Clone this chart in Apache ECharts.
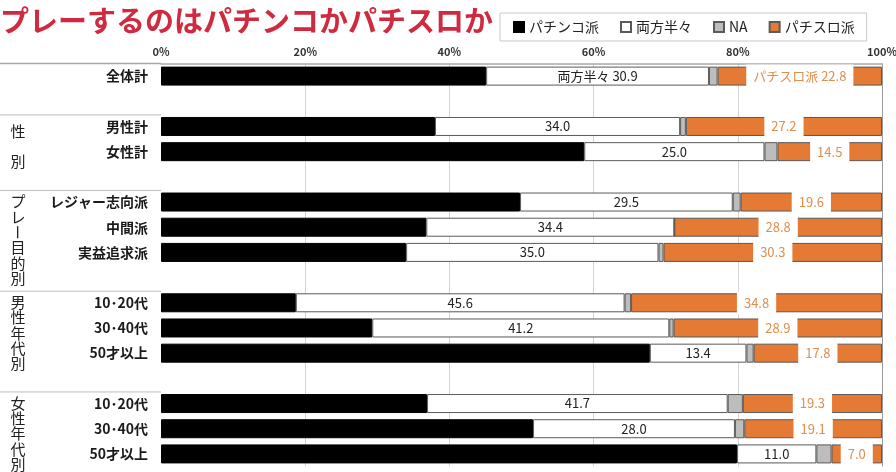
<!DOCTYPE html>
<html>
<head>
<meta charset="utf-8">
<script src="https://cdn.jsdelivr.net/npm/echarts@6/dist/echarts.min.js"></script>
<style>
  html, body { margin: 0; padding: 0; background: #fff; }
  #chart { width: 896px; height: 472px; }
</style>
</head>
<body>
<div id="chart"></div>
<script>
// Row labels; empty strings are spacer rows between groups
const categories = ['全体計', '', '男性計', '女性計', '', 'レジャー志向派', '中間派', '実益追求派', '',
  '10･20代', '30･40代', '50才以上', '', '10･20代', '30･40代', '50才以上'];
const pachinko  = [45.1, null, 38.0, 58.7, null, 49.8, 36.8, 34.0, null, 18.7, 29.3, 67.8, null, 36.9, 51.6, 79.9];
const both      = [30.9, null, 34.0, 25.0, null, 29.5, 34.4, 35.0, null, 45.6, 41.2, 13.4, null, 41.7, 28.0, 11.0];
const na        = [1.2, null, 0.8, 1.8, null, 1.1, 0.0, 0.7, null, 0.9, 0.6, 1.0, null, 2.1, 1.3, 2.1];
const pachislot = [22.8, null, 27.2, 14.5, null, 19.6, 28.8, 30.3, null, 34.8, 28.9, 17.8, null, 19.3, 19.1, 7.0];
const xTicks = [0, 20, 40, 60, 80, 100];

// Group captions: first row index and caption text
const groups = [
  { start: 2, text: '性別', spread: true },
  { start: 5, text: 'プレー目的別' },
  { start: 9, text: '男性年代別' },
  { start: 13, text: '女性年代別' }
];

const FONT = '"Noto Sans CJK JP", "Noto Sans", sans-serif';
const rowIds = categories.map((_, i) => String(i));

const chart = echarts.init(document.getElementById('chart'));

const barBase = {
  type: 'bar',
  stack: 'total',
  barWidth: 19,
  silent: true
};

chart.setOption({
  animation: false,
  textStyle: { fontFamily: FONT },
  title: {
    text: 'プレーするのはパチンコかパチスロか',
    left: 0,
    top: 6,
    padding: 0,
    textStyle: { fontFamily: FONT, fontSize: 29, fontWeight: 'bold', color: '#cf2a3f' }
  },
  legend: {
    left: 500,
    top: 13,
    padding: [7, 12, 7, 13],
    borderColor: '#c8c8c8',
    borderWidth: 1,
    itemGap: 21,
    itemWidth: 10,
    itemHeight: 10,
    icon: 'rect',
    textStyle: { fontFamily: FONT, fontSize: 14, color: '#222' },
    data: ['パチンコ派', '両方半々', 'NA', 'パチスロ派']
  },
  grid: { left: 161, right: 14, top: 63.5, bottom: 5.5, outerBoundsMode: 'none', containLabel: false },
  xAxis: {
    type: 'value',
    position: 'top',
    min: 0,
    max: 100,
    interval: 20,
    axisLine: { show: true, lineStyle: { color: '#a8a8a8', width: 1.5 } },
    axisTick: { show: false },
    axisLabel: {
      margin: 6,
      fontSize: 11,
      color: '#333',
      fontWeight: 'bold',
      fontFamily: FONT,
      formatter: v => xTicks.includes(v) ? v + '%' : ''
    },
    splitLine: {
      show: true,
      lineStyle: { color: ['transparent', '#d4d4d4', '#d4d4d4', '#d4d4d4', '#d4d4d4', '#9a9a9a'], width: 1 }
    }
  },
  yAxis: {
    type: 'category',
    inverse: true,
    data: rowIds,
    axisLine: { show: false },
    axisTick: { show: false },
    axisLabel: {
      margin: 13,
      fontSize: 14,
      fontWeight: 'bold',
      color: '#1a1a1a',
      fontFamily: FONT,
      formatter: v => categories[+v]
    }
  },
  series: [
    Object.assign({}, barBase, {
      name: 'パチンコ派',
      data: pachinko,
      itemStyle: { color: '#000', borderColor: '#000', borderWidth: 1 }
    }),
    Object.assign({}, barBase, {
      name: '両方半々',
      data: both,
      itemStyle: { color: '#fff', borderColor: '#5a5a5a', borderWidth: 1 },
      label: {
        show: true,
        position: 'inside',
        fontSize: 13,
        color: '#222',
        fontFamily: FONT,
        formatter: p => (p.dataIndex === 0 ? '両方半々 ' : '') + p.value.toFixed(1)
      }
    }),
    Object.assign({}, barBase, {
      name: 'NA',
      data: na,
      itemStyle: { color: '#bdbdbd', borderColor: '#5a5a5a', borderWidth: 1 }
    }),
    Object.assign({}, barBase, {
      name: 'パチスロ派',
      data: pachislot,
      itemStyle: { color: '#e47a34', borderColor: '#5a5a5a', borderWidth: 1 },
      label: {
        show: true,
        position: 'inside',
        fontSize: 13,
        color: '#e08e4d',
        fontFamily: FONT,
        backgroundColor: '#fff',
        padding: [5, 7, 5, 7],
        formatter: p => (p.dataIndex === 0 ? 'パチスロ派 ' : '') + p.value.toFixed(1)
      }
    })
  ]
});

// Separators and group captions in the label column, positioned from the category scale
function decorate() {
  const rowY = i => chart.convertToPixel({ yAxisIndex: 0 }, String(i));
  const step = rowY(1) - rowY(0);
  const gridTop = rowY(0) - step / 2;
  const leftEdge = chart.convertToPixel({ xAxisIndex: 0 }, 0);
  const graphic = [{
    type: 'line',
    shape: { x1: 0, y1: gridTop, x2: leftEdge, y2: gridTop },
    style: { stroke: '#a8a8a8', lineWidth: 1.5 },
    silent: true
  }];
  groups.forEach(g => {
    const top = rowY(g.start) - step / 2 + 1;
    graphic.push({
      type: 'line',
      shape: { x1: 0, y1: top, x2: leftEdge, y2: top },
      style: { stroke: '#bdbdbd', lineWidth: 1 },
      silent: true
    });
    const chars = g.text.split('');
    const lh = g.spread ? 30 : 15.4;
    chars.forEach((ch, k) => {
      graphic.push({
        type: 'text',
        x: 18,
        y: top + (g.spread ? 16 : 11) + k * lh,
        style: {
          text: ch,
          fontFamily: FONT,
          fontSize: 15,
          fill: '#222',
          align: 'center',
          verticalAlign: 'middle'
        },
        rotation: ch === 'ー' ? -Math.PI / 2 : 0,
        silent: true
      });
    });
  });
  chart.setOption({ graphic: graphic });
}
decorate();
</script>
</body>
</html>
